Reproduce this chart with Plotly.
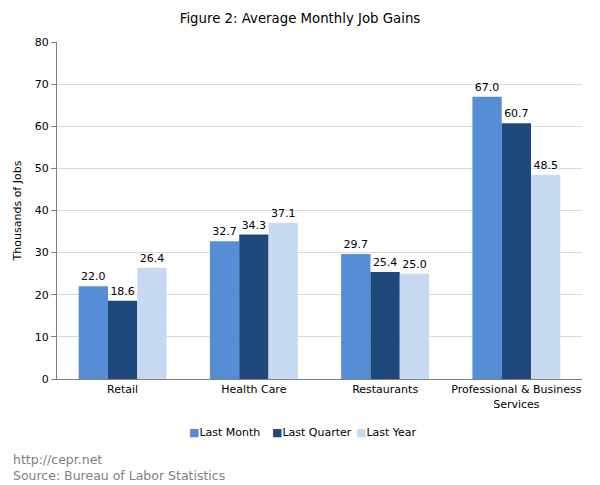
import plotly.graph_objects as go

categories = ["Retail", "Health Care", "Restaurants", "Professional & Business<br>Services"]
last_month = [22.0, 32.7, 29.7, 67.0]
last_quarter = [18.6, 34.3, 25.4, 60.7]
last_year = [26.4, 37.1, 25.0, 48.5]
series_names = ["Last Month", "Last Quarter", "Last Year"]
colors = ["#558ED5", "#1F497D", "#C6D9F1"]
y_ticks = [0, 10, 20, 30, 40, 50, 60, 70, 80]

FONT = "Verdana, DejaVu Sans, sans-serif"
W, H = 600, 485
ML, MR, MT, MB = 57, 18, 42, 106
PW, PH = W - ML - MR, H - MT - MB


def px_x(px):
    return (px - ML) / PW


def px_y(py):
    return (H - MB - py) / PH


fig = go.Figure()
for name, vals, c in zip(series_names, [last_month, last_quarter, last_year], colors):
    fig.add_trace(go.Bar(
        x=categories, y=vals, name=name, marker=dict(color=c, line=dict(width=0)),
        text=[f"{v:.1f}" for v in vals], textposition="outside",
        textfont=dict(family=FONT, size=11, color="#000000"), cliponaxis=False,
        showlegend=False,
    ))

fig.update_layout(
    width=W, height=H,
    paper_bgcolor="white", plot_bgcolor="white",
    font=dict(family=FONT, size=11, color="#000000"),
    margin=dict(l=ML, r=MR, t=MT, b=MB, autoexpand=False),
    barmode="group", bargap=0.33, bargroupgap=0,
    title=dict(text="Figure 2: Average Monthly Job Gains", x=0.5, xanchor="center",
               y=1 - 18/H, yanchor="middle", font=dict(family=FONT, size=13.3, color="#000000")),
    showlegend=False,
)
fig.update_xaxes(showline=True, linecolor="#808080", linewidth=1, ticks="", showgrid=False,
                 automargin=False, tickfont=dict(family=FONT, size=11))
fig.update_yaxes(range=[0, 80], tickvals=y_ticks, showline=True, linecolor="#808080", linewidth=1,
                 ticks="outside", ticklen=5, tickcolor="#808080", gridcolor="#D9D9D9",
                 zeroline=False, automargin=False,
                 title=dict(text="Thousands of Jobs", standoff=10, font=dict(family=FONT, size=11)))

# legend (square markers drawn as text glyphs)
legend_x = [187, 270, 354]
for name, c, lx in zip(series_names, colors, legend_x):
    fig.add_annotation(text=f"<span style='color:{c}'>■</span>{name}", xref="paper", yref="paper",
                       x=px_x(lx), y=px_y(432), xanchor="left", yanchor="middle",
                       showarrow=False, font=dict(family=FONT, size=11, color="#000000"))

fig.add_annotation(text="http://cepr.net<br>Source: Bureau of Labor Statistics", xref="paper", yref="paper",
                   x=px_x(11), y=px_y(467.5), xanchor="left", yanchor="middle", align="left",
                   showarrow=False, font=dict(family=FONT, size=12.5, color="#808080"))

fig.write_html("out.html", post_script="document.body.style.margin='0';",
               config={"displayModeBar": False})
